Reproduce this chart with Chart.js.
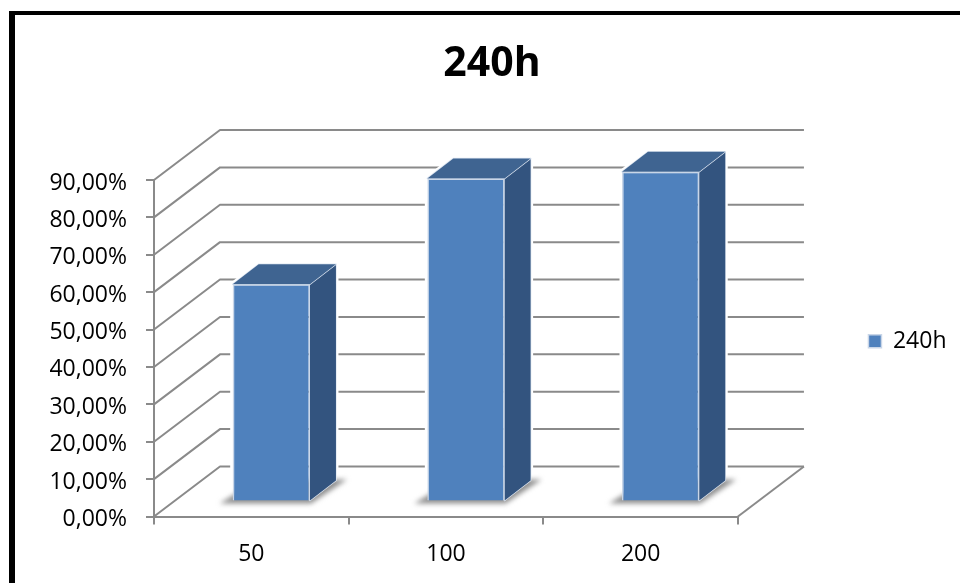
<!DOCTYPE html>
<html>
<head>
<meta charset="utf-8">
<style>html,body{margin:0;padding:0;background:#fff}canvas{display:block}</style>
<script src="https://cdn.jsdelivr.net/npm/chart.js@4"></script>
</head>
<body>
<canvas id="c" width="960" height="583"></canvas>
<script>
const categories = ['50', '100', '200'];
const seriesName = '240h';
const seriesValues = [58.1, 86.4, 88.2];
const yMax = 90;
const yStep = 10;

const FONT = '"Open Sans", sans-serif';
const WALL = {dx: 66, dy: -50};
const BAR_SHIFT = {dx: 20, dy: -15};
const BAR_DEPTH = {dx: 26, dy: -20};
const GRID = '#8a8a8a';

function poly(ctx, pts, fill, stroke, lw) {
  ctx.beginPath();
  pts.forEach((p, i) => i ? ctx.lineTo(p[0], p[1]) : ctx.moveTo(p[0], p[1]));
  ctx.closePath();
  if (stroke) { ctx.strokeStyle = stroke; ctx.lineWidth = lw; ctx.lineJoin = 'round'; ctx.stroke(); }
  if (fill) { ctx.fillStyle = fill; ctx.fill(); }
}

const scene = {
  id: 'scene',
  afterLayout(chart) {
    const l = chart.legend;
    l.top -= 7; l.bottom -= 7;
    l.left -= 3.5; l.right -= 3.5;
    l.adjustHitBoxes();
  },
  beforeDraw(chart) {
    const ctx = chart.ctx;
    ctx.save();
    ctx.fillStyle = '#000';
    ctx.fillRect(9, 11, 951, 4);
    ctx.fillRect(9, 11, 6, 572);
    ctx.restore();
  },
  beforeDatasetsDraw(chart) {
    const ctx = chart.ctx, y = chart.scales.y, a = chart.chartArea;
    ctx.save();
    ctx.strokeStyle = GRID; ctx.lineWidth = 2; ctx.lineJoin = 'round';
    y.ticks.forEach(t => {
      const py = y.getPixelForValue(t.value);
      ctx.beginPath();
      ctx.moveTo(a.left, py);
      ctx.lineTo(a.left + WALL.dx, py + WALL.dy);
      ctx.lineTo(a.right + WALL.dx, py + WALL.dy);
      ctx.stroke();
    });
    const y0 = y.getPixelForValue(0);
    ctx.beginPath();
    ctx.moveTo(a.right, y0);
    ctx.lineTo(a.right + WALL.dx, y0 + WALL.dy);
    ctx.stroke();
    chart.getDatasetMeta(0).data.forEach(el => {
      const p = el.getProps(['x', 'y', 'width', 'base'], true);
      const L = p.x - p.width / 2 + BAR_SHIFT.dx, R = p.x + p.width / 2 + BAR_SHIFT.dx;
      const T = p.y + BAR_SHIFT.dy, B = p.base + BAR_SHIFT.dy;
      const d = BAR_DEPTH;
      // white halo interrupts the gridlines around the bar
      poly(ctx, [[L, T], [L + d.dx, T + d.dy], [R + d.dx, T + d.dy], [R + d.dx, B + d.dy], [R, B], [L, B]], null, '#ffffff', 5);
      ctx.save();
      ctx.filter = 'blur(2.5px)';
      poly(ctx, [[L - 13, B + 3], [R + 1, B + 3], [R + d.dx + 11, B + d.dy - 1], [L + d.dx, B + d.dy - 1]], '#8f8f8f');
      ctx.restore();
      poly(ctx, [[R, T], [R + d.dx, T + d.dy], [R + d.dx, B + d.dy], [R, B]], '#33547f', '#dfe7f2', 1.5);
      poly(ctx, [[L, T], [L + d.dx, T + d.dy], [R + d.dx, T + d.dy], [R, T]], '#3f6491', '#dfe7f2', 1.5);
    });
    ctx.restore();
  },
  beforeDatasetDraw(chart) {
    chart.ctx.save();
    chart.ctx.translate(BAR_SHIFT.dx, BAR_SHIFT.dy);
  },
  afterDatasetDraw(chart) {
    chart.ctx.restore();
  }
};

new Chart(document.getElementById('c'), {
  type: 'bar',
  data: {
    labels: categories,
    datasets: [{
      label: seriesName,
      data: seriesValues,
      backgroundColor: '#4f81bd',
      borderColor: '#c9d6e8',
      borderWidth: 1.5,
      categoryPercentage: 1,
      barPercentage: 0.397,
      clip: false
    }]
  },
  plugins: [scene],
  options: {
    responsive: false,
    animation: false,
    devicePixelRatio: 1,
    layout: {padding: {left: 24, right: 0, top: 0, bottom: 0}},
    plugins: {
      tooltip: {enabled: false},
      title: {
        display: true,
        text: seriesName,
        color: '#000',
        font: {family: FONT, size: 41, weight: 'bold', lineHeight: 1.2},
        padding: {top: 39.5, bottom: 91.3}
      },
      legend: {
        display: true,
        position: 'right',
        fullSize: false,
        align: 'center',
        labels: {
          color: '#000',
          font: {family: FONT, size: 23},
          boxWidth: 13,
          boxHeight: 13,
          padding: 134
        }
      }
    },
    scales: {
      x: {
        offset: true,
        afterFit(s) { s.height = 66.5; },
        border: {display: true, color: GRID, width: 2},
        grid: {display: true, offset: true, drawOnChartArea: false, color: GRID, tickColor: GRID, tickLength: 8, lineWidth: 2},
        ticks: {color: '#000', font: {family: FONT, size: 23}, padding: 16, maxRotation: 0}
      },
      y: {
        min: 0,
        max: yMax,
        afterFit(s) { s.width = 130; },
        border: {display: true, color: GRID, width: 2},
        grid: {display: true, drawOnChartArea: false, color: GRID, tickColor: GRID, tickLength: 8, lineWidth: 2},
        ticks: {
          stepSize: yStep,
          color: '#000',
          font: {family: FONT, size: 23},
          padding: 19,
          labelOffset: 3,
          callback: v => v.toFixed(2).replace('.', ',') + '%'
        }
      }
    }
  }
});
</script>
</body>
</html>
